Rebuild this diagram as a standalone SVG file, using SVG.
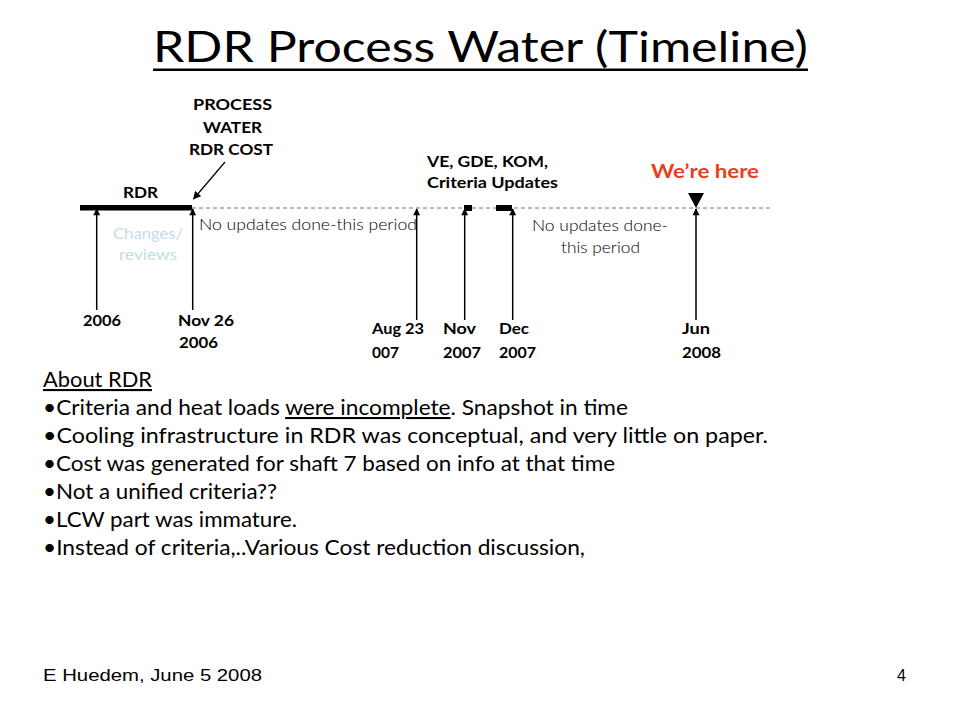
<svg xmlns="http://www.w3.org/2000/svg" width="960" height="720" viewBox="0 0 960 720">
<defs>
<marker id="ah" viewBox="0 0 10 10" refX="9" refY="5" markerWidth="8" markerHeight="7" markerUnits="userSpaceOnUse" orient="auto">
<path d="M0,0 L10,5 L0,10 Z" fill="#000"/>
</marker>
<marker id="ah2" viewBox="0 0 10 10" refX="9" refY="5" markerWidth="9" markerHeight="8" markerUnits="userSpaceOnUse" orient="auto">
<path d="M0,0 L10,5 L0,10 Z" fill="#000"/>
</marker>
</defs>
<style>
.t{font-family:Lato,"Open Sans","DejaVu Sans",sans-serif;fill:#000}
.lbl{font-family:Lato,"Open Sans","DejaVu Sans",sans-serif;font-weight:bold;font-size:16px;fill:#000}
.note{font-family:Lato,"Open Sans","DejaVu Sans",sans-serif;font-weight:300;font-size:16px;fill:#000}
.body{font-family:Lato,"Open Sans","DejaVu Sans",sans-serif;font-size:21px;fill:#000}
.arr{stroke:#000;stroke-width:1.5;fill:none;marker-end:url(#ah)}
.foot{font-family:"Liberation Sans",Arial,sans-serif;font-size:16px;fill:#000}
</style>
<rect width="960" height="720" fill="#fff"/>

<g id="title">
<text class="t" x="153" y="62" font-size="42" textLength="655" lengthAdjust="spacingAndGlyphs">RDR Process Water (Timeline)</text>
<rect x="153" y="68.5" width="655" height="2.5" fill="#000"/>
</g>

<g id="timeline">
<line x1="192" y1="208" x2="770" y2="208" stroke="#777" stroke-width="1" stroke-dasharray="4,3"/>
<rect x="80" y="205" width="112" height="5.5" fill="#000"/>
<rect x="464" y="205" width="8" height="6" fill="#000"/>
<rect x="496" y="205" width="16" height="6" fill="#000"/>
</g>

<g id="connectors">
<line class="arr" x1="96.7" y1="310" x2="96.7" y2="209"/>
<line class="arr" x1="192.7" y1="310" x2="192.7" y2="209"/>
<line class="arr" x1="416.7" y1="320" x2="416.7" y2="209"/>
<line class="arr" x1="464.7" y1="320" x2="464.7" y2="209"/>
<line class="arr" x1="512.7" y1="320" x2="512.7" y2="209"/>
<line class="arr" x1="696" y1="320" x2="696" y2="209"/>
<line x1="225" y1="162" x2="193.5" y2="199" stroke="#000" stroke-width="1.2" marker-end="url(#ah2)"/>
</g>

<g id="node-rdr">
<text class="lbl" x="123" y="198" textLength="35" lengthAdjust="spacingAndGlyphs">RDR</text>
<text x="113" y="239" font-family="Lato,'Open Sans',sans-serif" font-size="16" fill="#c4dde6" textLength="70" lengthAdjust="spacingAndGlyphs">Changes/</text>
<text x="119" y="260" font-family="Lato,'Open Sans',sans-serif" font-size="16" fill="#c4dde6" textLength="58" lengthAdjust="spacingAndGlyphs">reviews</text>
</g>

<g id="node-process-water">
<text class="lbl" x="193" y="110" textLength="79" lengthAdjust="spacingAndGlyphs">PROCESS</text>
<text class="lbl" x="203" y="133" textLength="59" lengthAdjust="spacingAndGlyphs">WATER</text>
<text class="lbl" x="189" y="155" textLength="84" lengthAdjust="spacingAndGlyphs">RDR COST</text>
</g>

<g id="node-ve">
<text class="lbl" x="427" y="167" textLength="121" lengthAdjust="spacingAndGlyphs">VE, GDE, KOM,</text>
<text class="lbl" x="427" y="188" textLength="131" lengthAdjust="spacingAndGlyphs">Criteria Updates</text>
</g>

<g id="node-here">
<text x="651" y="178" font-family="Lato,'Open Sans',sans-serif" font-weight="bold" font-size="19" fill="#e8401c" textLength="108" lengthAdjust="spacingAndGlyphs">We’re here</text>
<path d="M688,193 L704,193 L696,208 Z" fill="#000"/>
</g>

<g id="notes">
<text class="note" x="199" y="230" textLength="218" lengthAdjust="spacingAndGlyphs">No updates done-this period</text>
<text class="note" x="532" y="231" textLength="136" lengthAdjust="spacingAndGlyphs">No updates done-</text>
<text class="note" x="561" y="253" textLength="79" lengthAdjust="spacingAndGlyphs">this period</text>
</g>

<g id="dates">
<text class="lbl" x="83" y="326" textLength="38" lengthAdjust="spacingAndGlyphs">2006</text>
<text class="lbl" x="178" y="326" textLength="56" lengthAdjust="spacingAndGlyphs">Nov 26</text>
<text class="lbl" x="179" y="348" textLength="39" lengthAdjust="spacingAndGlyphs">2006</text>
<text class="lbl" x="372" y="334" textLength="52" lengthAdjust="spacingAndGlyphs">Aug 23</text>
<text class="lbl" x="372" y="358" textLength="27" lengthAdjust="spacingAndGlyphs">007</text>
<text class="lbl" x="443" y="334" textLength="33" lengthAdjust="spacingAndGlyphs">Nov</text>
<text class="lbl" x="443" y="358" textLength="38" lengthAdjust="spacingAndGlyphs">2007</text>
<text class="lbl" x="499" y="334" textLength="30" lengthAdjust="spacingAndGlyphs">Dec</text>
<text class="lbl" x="499" y="358" textLength="37" lengthAdjust="spacingAndGlyphs">2007</text>
<text class="lbl" x="682" y="334" textLength="28" lengthAdjust="spacingAndGlyphs">Jun</text>
<text class="lbl" x="682" y="358" textLength="39" lengthAdjust="spacingAndGlyphs">2008</text>
</g>

<g id="about">
<text class="body" x="43" y="387" text-decoration="underline" textLength="109" lengthAdjust="spacingAndGlyphs">About RDR</text>
<text class="body" x="43" y="415" textLength="585" lengthAdjust="spacingAndGlyphs">•Criteria and heat loads <tspan text-decoration="underline">were incomplete</tspan>. Snapshot in time</text>
<text class="body" x="43" y="443" textLength="725" lengthAdjust="spacingAndGlyphs">•Cooling infrastructure in RDR was conceptual, and very little on paper.</text>
<text class="body" x="43" y="471" textLength="572" lengthAdjust="spacingAndGlyphs">•Cost was generated for shaft 7 based on info at that time</text>
<text class="body" x="43" y="499" textLength="234" lengthAdjust="spacingAndGlyphs">•Not a unified criteria??</text>
<text class="body" x="43" y="527" textLength="254" lengthAdjust="spacingAndGlyphs">•LCW part was immature.</text>
<text class="body" x="43" y="555" textLength="542" lengthAdjust="spacingAndGlyphs">•Instead of criteria,..Various Cost reduction discussion,</text>
</g>

<g id="footer">
<text class="foot" x="43" y="681" textLength="219" lengthAdjust="spacingAndGlyphs">E Huedem, June 5 2008</text>
<text class="foot" x="897" y="681">4</text>
</g>
</svg>
